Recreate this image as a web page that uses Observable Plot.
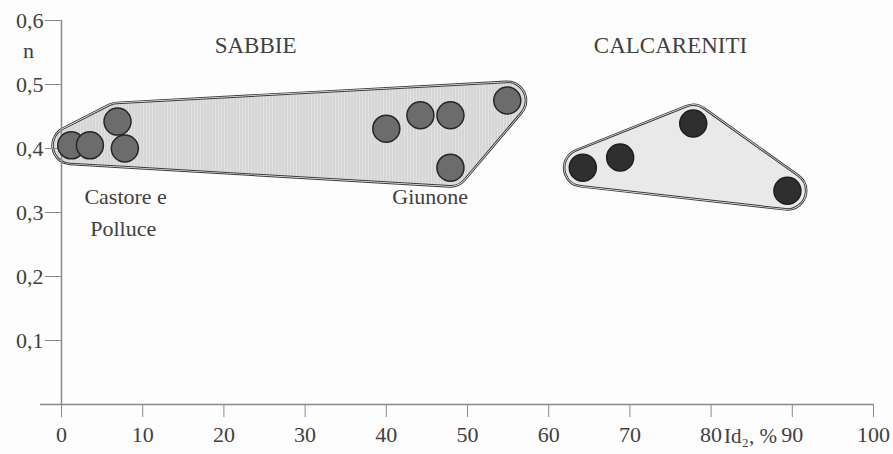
<!DOCTYPE html>
<html>
<head>
<meta charset="utf-8">
<script src="https://cdn.jsdelivr.net/npm/d3@7"></script>
<script src="https://cdn.jsdelivr.net/npm/@observablehq/plot@0.6"></script>
<style>
  html, body { margin: 0; padding: 0; background: #fdfdfd; }
</style>
</head>
<body>
<div id="chart"></div>
<script>
// ---- data ----
const group = ["Sabbie","Sabbie","Sabbie","Sabbie","Sabbie","Sabbie","Sabbie","Sabbie","Sabbie",
               "Calcareniti","Calcareniti","Calcareniti","Calcareniti"];
const idValues = [1.2, 3.5, 6.9, 7.8, 40.0, 44.2, 47.9, 47.9, 54.9, 64.2, 68.8, 77.8, 89.4];
const nValues  = [0.405, 0.405, 0.442, 0.400, 0.431, 0.452, 0.452, 0.370, 0.475, 0.370, 0.386, 0.439, 0.334];

const xTicks = [0, 10, 20, 30, 40, 50, 60, 70, 80, 90, 100];
const yTicks = [0.1, 0.2, 0.3, 0.4, 0.5, 0.6];

// annotations
const labelText = ["SABBIE", "CALCARENITI", "Castore e", "Polluce", "Giunone"];
const labelX = [23.9, 75.0, 7.9, 7.6, 45.4];
const labelY = [0.561, 0.561, 0.325, 0.275, 0.325];
const labelSize = [23, 23, 22, 22, 22];

const points = group.map((g, i) => ({group: g, id: idValues[i], n: nValues[i]}));
const sabbie = points.filter(d => d.group === "Sabbie");
const calc = points.filter(d => d.group === "Calcareniti");
const labels = labelText.map((t, i) => ({text: t, x: labelX[i], y: labelY[i], size: labelSize[i]}));

function envelope(data, innerFill) {
  const base = {x: "id", y: "n", strokeLinejoin: "round"};
  return [
    Plot.hull(data, {...base, fill: "#3a3a3a", stroke: "#3a3a3a", strokeWidth: 40}),
    Plot.hull(data, {...base, fill: "#f2f2f2", stroke: "#f2f2f2", strokeWidth: 38.2}),
    Plot.hull(data, {...base, fill: "#3a3a3a", stroke: "#3a3a3a", strokeWidth: 36.8}),
    Plot.hull(data, {...base, fill: innerFill, stroke: innerFill, strokeWidth: 34.8})
  ];
}

const fmt = d => d.toFixed(1).replace(".", ",");

const chart = Plot.plot({
  width: 893,
  height: 454,
  marginLeft: 61,
  marginRight: 20,
  marginTop: 20,
  marginBottom: 50,
  style: {fontFamily: "'Liberation Serif', 'DejaVu Serif', serif", fontSize: "22px", color: "#404040", background: "#fdfdfd"},
  x: {domain: [0, 100]},
  y: {domain: [0, 0.6]},
  marks: [
    ...envelope(sabbie, "url(#hatch)"),
    ...envelope(calc, "#e9e9e9"),
    Plot.ruleY([0], {stroke: "#8a8a8a", strokeWidth: 1.5, insetLeft: -21}),
    Plot.ruleX([0], {stroke: "#8a8a8a", strokeWidth: 1.5}),
    Plot.axisY({ticks: yTicks, tickFormat: fmt, tickSize: 16, tickPadding: 2, stroke: "#8a8a8a", fill: "#404040", label: null, fontSize: 22}),
    Plot.axisX({ticks: xTicks, tickFormat: d => String(d), tickSize: 13, tickPadding: 9, stroke: "#8a8a8a", fill: "#404040", label: null, fontSize: 22}),
    Plot.dot(sabbie, {x: "id", y: "n", r: 13.5, fill: "#6c6c6c", stroke: "#262626", strokeWidth: 1.5}),
    Plot.dot(calc, {x: "id", y: "n", r: 13.5, fill: "#2f2f2f", stroke: "#1e1e1e", strokeWidth: 1.5}),
    Plot.text(labels, {x: "x", y: "y", text: "text", fontSize: d => d.size, fill: "#404040"}),
    Plot.text(["n"], {x: 0, y: 0.553, dx: -33, text: d => d, fontSize: 22, fill: "#404040"}),
    Plot.text(["Id₂, %"], {x: 81.6, y: 0, dy: 32, text: d => d, textAnchor: "start", fontSize: 21, fill: "#404040"})
  ]
});

// hatch pattern for the SABBIE envelope
const defs = document.createElementNS("http://www.w3.org/2000/svg", "defs");
defs.innerHTML = '<pattern id="hatch" width="3" height="4" patternUnits="userSpaceOnUse">' +
  '<rect width="3" height="4" fill="#e1e1e1"/>' +
  '<line x1="0.5" y1="0" x2="0.5" y2="4" stroke="#cbcbcb" stroke-width="1"/></pattern>';
chart.insertBefore(defs, chart.firstChild);

document.getElementById("chart").appendChild(chart);
</script>
</body>
</html>
